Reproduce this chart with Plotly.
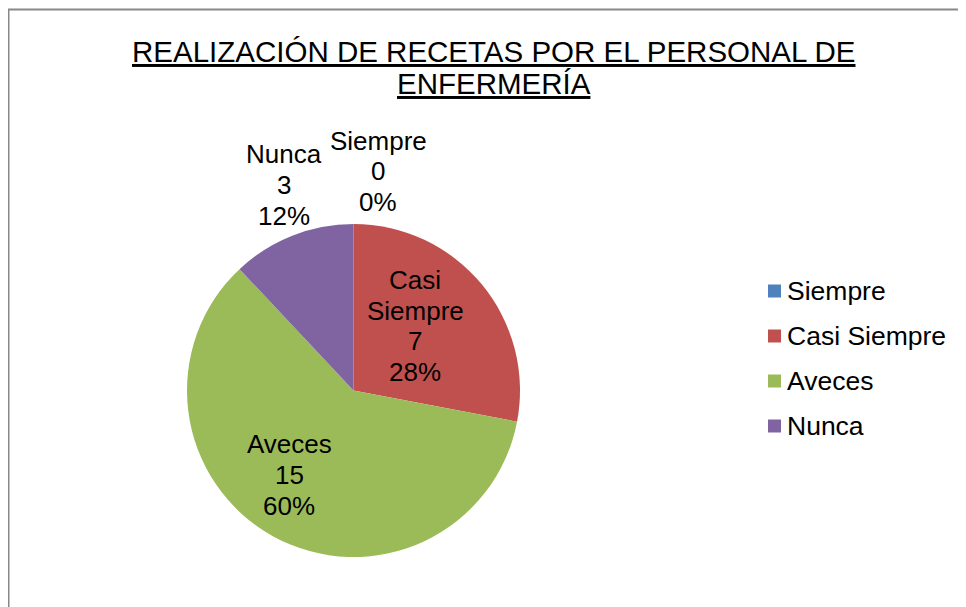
import math
import plotly.graph_objects as go

# ---- data ----
categories = ["Siempre", "Casi Siempre", "Aveces", "Nunca"]
label_lines = [["Siempre"], ["Casi", "Siempre"], ["Aveces"], ["Nunca"]]
values = [0, 7, 15, 3]
colors = ["#4F81BD", "#C0504D", "#9BBB59", "#8064A2"]
title_lines = ["REALIZACIÓN DE RECETAS POR EL PERSONAL DE", "ENFERMERÍA"]

W, H = 966, 607
OFF = 8  # page body margin offset
FONT = "Liberation Sans, Arial, sans-serif"

def xp(px):
    return (px - OFF) / W

def yp(py):
    return 1 - (py - OFF) / H

# pie geometry (page pixels)
cx, cy, R = 353.5, 390.5, 166.5

fig = go.Figure()
fig.add_trace(go.Pie(
    labels=categories,
    values=values,
    sort=False,
    direction="clockwise",
    rotation=0,
    marker=dict(colors=colors, line=dict(width=0)),
    textinfo="none",
    hoverinfo="label+value+percent",
    showlegend=False,
    domain=dict(x=[xp(cx - R), xp(cx + R)], y=[yp(cy + R), yp(cy - R)]),
))

total = sum(values)
label_k = [1.317, 0.5, 0.6, 1.25]
label_nudge = [(24.5, 0), (-2.6, 11.4), (-15.9, 3.1), (7.1, 12)]
LINE = 30.7

annotations = []
cum = 0
for i, (lines, v) in enumerate(zip(label_lines, values)):
    mid = (cum + v / 2) / total * 2 * math.pi
    cum += v
    dx = label_k[i] * R * math.sin(mid) + label_nudge[i][0]
    dy = label_k[i] * R * math.cos(mid) + label_nudge[i][1]
    pct = round(v / total * 100)
    all_lines = lines + [str(v), f"{pct}%"]
    n = len(all_lines)
    for j, t in enumerate(all_lines):
        ly = cy - dy + (j - (n - 1) / 2) * LINE
        annotations.append(dict(
            x=xp(cx + dx), y=yp(ly), xref="paper", yref="paper",
            text=t, showarrow=False,
            xanchor="center", yanchor="middle", align="center",
            font=dict(family=FONT, size=26, color="#000000"),
        ))

# title lines
title_y = [51, 84]
for t, ty in zip(title_lines, title_y):
    annotations.append(dict(
        x=xp(494), y=yp(ty), xref="paper", yref="paper",
        text=f'<span style="text-decoration:underline">{t}</span>',
        showarrow=False, xanchor="center", yanchor="middle",
        font=dict(family=FONT, size=29.5, color="#000000"),
    ))

# manual legend
shapes = []
leg_y = [291, 336, 381, 426]
for c, name, ly in zip(colors, categories, leg_y):
    shapes.append(dict(type="rect", xref="paper", yref="paper",
                       x0=xp(768), x1=xp(781), y0=yp(ly + 6.5), y1=yp(ly - 6.5),
                       fillcolor=c, line=dict(width=0)))
    annotations.append(dict(
        x=xp(785), y=yp(ly), xref="paper", yref="paper", text=name,
        showarrow=False, xanchor="left", yanchor="middle",
        font=dict(family=FONT, size=26.5, color="#000000"),
    ))

# chart frame
shapes.append(dict(type="rect", xref="paper", yref="paper",
                   x0=xp(8.5), x1=1.2, y0=-0.2, y1=yp(9.5),
                   line=dict(color="#888888", width=2), fillcolor="rgba(0,0,0,0)"))

fig.update_layout(
    width=W, height=H,
    margin=dict(l=0, r=0, t=0, b=0),
    paper_bgcolor="#FFFFFF",
    plot_bgcolor="#FFFFFF",
    annotations=annotations,
    shapes=shapes,
    font=dict(family=FONT),
)

fig.write_html("out.html")
